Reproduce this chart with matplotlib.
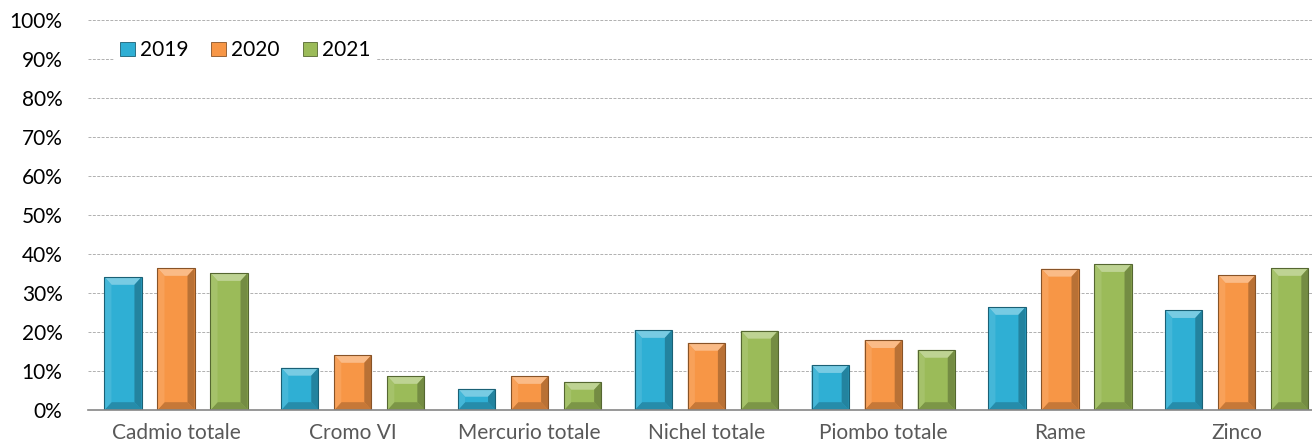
import matplotlib
matplotlib.use("Agg")
import matplotlib.pyplot as plt
import matplotlib.colors as mcolors
from matplotlib.patches import Polygon, Patch
from matplotlib.ticker import FuncFormatter
import numpy as np

plt.rcParams['font.family'] = ['Lato', 'DejaVu Sans']

categories = ['Cadmio totale', 'Cromo VI', 'Mercurio totale', 'Nichel totale',
              'Piombo totale', 'Rame', 'Zinco']
years = ['2019', '2020', '2021']
v2019 = [34.1, 10.8, 5.4, 20.5, 11.5, 26.4, 25.6]
v2020 = [36.4, 14.1, 8.7, 17.2, 17.9, 36.2, 34.6]
v2021 = [35.1, 8.7, 7.2, 20.3, 15.4, 37.4, 36.4]
colors = ['#2FAFD4', '#F79646', '#9BBB59']


def shade(c, f):
    r = np.array(mcolors.to_rgb(c))
    if f > 0:
        r = r + (1 - r) * f
    else:
        r = r * (1 + f)
    return tuple(np.clip(r, 0, 1))


def bevel(ax, bar, color):
    # fake the Excel bevel look with four small trapezoids
    x0 = bar.get_x()
    x1 = x0 + bar.get_width()
    h = bar.get_height()
    dx = 0.04
    dy = min(2.0, h / 2)
    faces = [
        ([(x0, h), (x1, h), (x1 - dx, h - dy), (x0 + dx, h - dy)], shade(color, 0.35)),
        ([(x0, 0), (x1, 0), (x1 - dx, dy), (x0 + dx, dy)], shade(color, -0.2)),
        ([(x0, 0), (x0, h), (x0 + dx, h - dy), (x0 + dx, dy)], shade(color, 0.1)),
        ([(x1, 0), (x1, h), (x1 - dx, h - dy), (x1 - dx, dy)], shade(color, -0.25)),
    ]
    for pts, c in faces:
        ax.add_patch(Polygon(pts, closed=True, facecolor=c, edgecolor='none', zorder=3))
    ax.add_patch(Polygon([(x0, 0), (x0, h), (x1, h), (x1, 0)], closed=True,
                         facecolor='none', edgecolor=shade(color, -0.45),
                         linewidth=0.8, zorder=4))


fig = plt.figure(figsize=(13.12, 4.48), dpi=100)
ax = fig.add_axes([87.6 / 1312, 38 / 448, 1237.6 / 1312, 390 / 448])

x = np.arange(len(categories))
width = 0.21
offsets = [-0.3, 0, 0.3]
for vals, off, col in zip([v2019, v2020, v2021], offsets, colors):
    bars = ax.bar(x + off, vals, width, color=col, zorder=2)
    for b in bars:
        bevel(ax, b, col)

ax.set_xlim(-0.5, len(categories) - 0.5)
ax.set_ylim(0, 100)
ax.set_yticks(np.arange(0, 101, 10))
ax.yaxis.set_major_formatter(FuncFormatter(lambda v, p: f'{v:.0f}%'))
ax.set_xticks(x)
ax.set_xticklabels(categories, color='#595959')
ax.tick_params(axis='both', length=0, labelsize=15)
ax.tick_params(axis='y', pad=18)
ax.tick_params(axis='x', pad=9)

ax.grid(axis='y', color='#B0B0B0', linestyle=(0, (3, 1.5)), linewidth=0.7, zorder=0)
ax.set_axisbelow(True)
for s in ['top', 'right', 'left']:
    ax.spines[s].set_visible(False)
ax.spines['bottom'].set_color('#868686')
ax.spines['bottom'].set_linewidth(1.2)
ax.spines['bottom'].set_zorder(5)

handles = [Patch(facecolor=c, edgecolor=shade(c, -0.45), linewidth=0.6) for c in colors]
leg = ax.legend(handles, years, loc='center left', bbox_to_anchor=(16 / 1237.6, 0.922),
                ncol=3, frameon=True, fontsize=15, handlelength=0.7, handleheight=0.7,
                handletextpad=0.25, columnspacing=1.1, borderpad=0.3, fancybox=False)
leg.get_frame().set_facecolor('white')
leg.get_frame().set_edgecolor('none')
leg.get_frame().set_alpha(1)

fig.savefig('out.png', dpi=100)
